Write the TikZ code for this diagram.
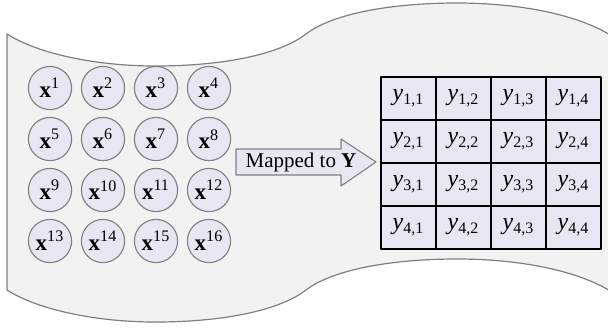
\documentclass[tikz,border=0pt]{standalone}
\usepackage{fontspec}
\setmainfont{Liberation Serif}
\usetikzlibrary{calc}

\definecolor{paper}{HTML}{F2F2F2}
\definecolor{lav}{HTML}{E7E6F3}
\definecolor{edgegray}{HTML}{7F7F7F}

\tikzset{
  vec/.style={circle,draw=edgegray,fill=lav,line width=0.55pt,minimum size=21.6pt,inner sep=0pt,font=\fontsize{11.5}{13}\selectfont},
  cell/.style={rectangle,draw=black,fill=lav,line width=0.8pt,minimum width=27.5pt,minimum height=21.5pt,inner sep=0pt,font=\fontsize{12}{14}\selectfont},
}

\begin{document}
\begin{tikzpicture}[x=0.5pt,y=-0.5pt,line join=round]
  \useasboundingbox (0,0) rectangle (608,328);

  % wavy sheet
  \draw[edgegray,fill=paper,line width=0.6pt]
    (7,34) .. controls (40,55) and (100,66) .. (155,66)
           .. controls (225,66) and (280,54) .. (306,34)
           .. controls (332,14) and (390,3) .. (457,3)
           .. controls (515,3) and (575,13) .. (612,36)
    -- (612,292)
           .. controls (575,269) and (515,259) .. (457,259)
           .. controls (390,259) and (332,270) .. (306,290)
           .. controls (280,310) and (225,322) .. (155,322)
           .. controls (100,322) and (40,311) .. (7,290)
    -- cycle;

  \foreach \r in {0,...,3}
    \foreach \c in {0,...,3} {
      \pgfmathtruncatemacro{\k}{4*\r+\c+1}
      \node[vec] (x\k) at ({50+53*\c},{88+51*\r}) {\textbf{x}\textsuperscript{\k}};
    }

  \coordinate (tail) at (236,162);
  \coordinate (tip) at (376,162);
  \draw[edgegray,fill=lav,line width=0.55pt]
    ($(tail)+(0,-13)$) -- (341,149) -- (341,139) -- (tip) -- (341,186) -- (341,175) -- ($(tail)+(0,13)$) -- cycle;
  \node[font=\fontsize{10.5}{12}\selectfont] (maplabel) at (301,162) {Mapped to \textbf{Y}};

  \foreach \r in {1,...,4}
    \foreach \c in {1,...,4}
      \node[cell] (y\r\c) at ({353.5+55*\c},{55.5+43*\r}) {\textit{y}\textsubscript{\r,\c}};
\end{tikzpicture}
\end{document}
